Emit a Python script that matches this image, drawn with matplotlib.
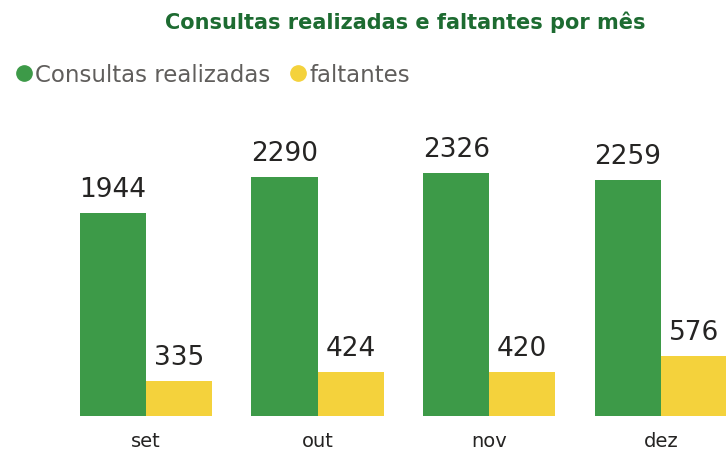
import matplotlib.pyplot as plt
from matplotlib.lines import Line2D
import numpy as np

meses = ['set', 'out', 'nov', 'dez']
realizadas = [1944, 2290, 2326, 2259]
faltantes = [335, 424, 420, 576]

VERDE = '#3d9a48'
AMARELO = '#f4d23c'
TEXTO = '#252423'

fig = plt.figure(figsize=(7.26, 4.52), dpi=100)
ax = fig.add_axes([60 / 726, 35 / 452, 666 / 726, 287 / 452])

x = np.arange(len(meses))
w = 0.385
b1 = ax.bar(x - w / 2, realizadas, w, color=VERDE)
b2 = ax.bar(x + w / 2, faltantes, w, color=AMARELO)

for bars in (b1, b2):
    for r in bars:
        ax.annotate(f'{int(r.get_height())}', (r.get_x() + r.get_width() / 2, r.get_height()),
                    xytext=(0, 8), textcoords='offset points', ha='center', va='bottom',
                    fontsize=19, color=TEXTO)

ax.set_xlim(-0.5, -0.5 + 666 / 171.67)
ax.set_ylim(0, 2747)
ax.set_xticks(x)
ax.set_xticklabels(meses, fontsize=14, color=TEXTO)
ax.tick_params(axis='x', length=0, pad=11)
ax.set_yticks([])
for s in ax.spines.values():
    s.set_visible(False)

fig.text(405 / 726, 1 - 22 / 452, 'Consultas realizadas e faltantes por mês',
         ha='center', va='center', fontsize=15, color='#1d6b31', fontweight='bold')

handles = [Line2D([], [], marker='o', ls='', color=VERDE, markersize=11),
           Line2D([], [], marker='o', ls='', color=AMARELO, markersize=11)]
fig.legend(handles, ['Consultas realizadas', 'faltantes'], loc='center left',
           bbox_to_anchor=(-0.008, 1 - 76 / 452), ncol=2, frameon=False, fontsize=16.5,
           labelcolor='#605e5c', handletextpad=-0.1, columnspacing=0.6, handlelength=1.2,
           borderpad=0.2)

fig.savefig('out.png', dpi=100)
